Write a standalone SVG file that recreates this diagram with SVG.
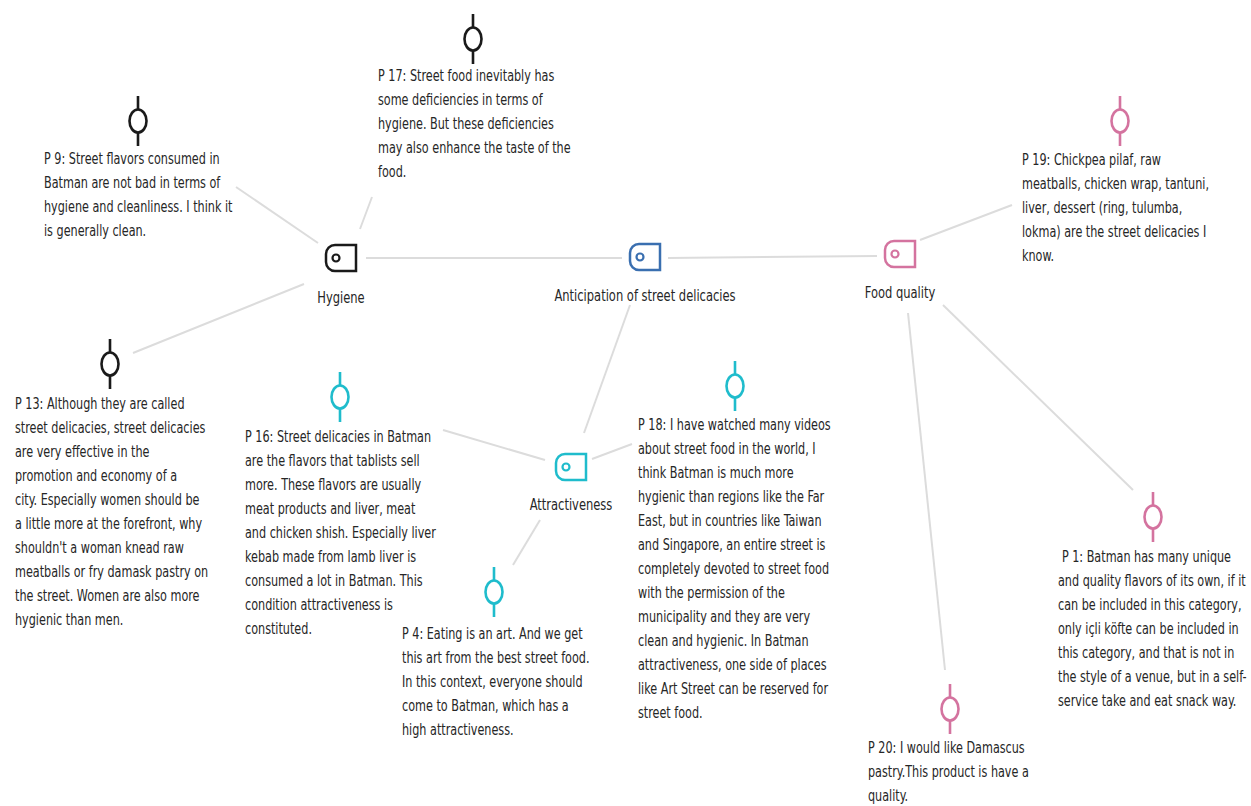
<svg xmlns="http://www.w3.org/2000/svg" xmlns:xlink="http://www.w3.org/1999/xlink" width="1251" height="806" viewBox="0 0 1251 806">
<style>
.t{font-family:"DejaVu Sans Condensed","DejaVu Sans",sans-serif;font-size:16px;fill:#262626}
.lb{font-family:"DejaVu Sans Condensed","DejaVu Sans",sans-serif;font-size:16px;fill:#262626;text-anchor:middle}
.c{stroke:#dcdcdc;stroke-width:2;fill:none}
.k{color:#1a1a1a}.b{color:#3a6fb0}.p{color:#d4739f}.y{color:#1fbccc}
</style>
<defs>
<symbol id="code" overflow="visible"><path d="M30 0H9A9 9 0 0 0 0 9V17A9 9 0 0 0 9 26H30Z" fill="#fff" stroke="currentColor" stroke-width="2.5"/><circle cx="10" cy="13" r="3.5" fill="none" stroke="currentColor" stroke-width="2.2"/></symbol>
<symbol id="quote" overflow="visible"><path d="M0 -25V-11M0 11V25" stroke="currentColor" stroke-width="2.6"/><ellipse cx="0" cy="0" rx="8.5" ry="11.5" fill="none" stroke="currentColor" stroke-width="2.6"/></symbol>
</defs>
<rect width="1251" height="806" fill="#fff"/>
<g id="connectors">
<line class="c" x1="236" y1="187" x2="318" y2="243"/>
<line class="c" x1="372" y1="197" x2="360" y2="229"/>
<line class="c" x1="133" y1="353" x2="304" y2="284"/>
<line class="c" x1="366" y1="258" x2="622" y2="258"/>
<line class="c" x1="668" y1="258" x2="877" y2="256"/>
<line class="c" x1="920" y1="240" x2="1012" y2="205"/>
<line class="c" x1="630" y1="305" x2="584" y2="433"/>
<line class="c" x1="443" y1="430" x2="545" y2="460"/>
<line class="c" x1="592" y1="459" x2="632" y2="444"/>
<line class="c" x1="540" y1="520" x2="513" y2="565"/>
<line class="c" x1="908" y1="313" x2="945" y2="670"/>
<line class="c" x1="943" y1="305" x2="1133" y2="490"/>
</g>
<g id="hygiene" class="k"><use xlink:href="#code" x="326" y="245"/><text class="lb" transform="translate(341 0) scale(0.8 1)" x="0" y="303">Hygiene</text></g>
<g id="anticipation" class="b"><use xlink:href="#code" x="630" y="244"/><text class="lb" transform="translate(645 0) scale(0.8 1)" x="0" y="301">Anticipation of street delicacies</text></g>
<g id="foodquality" class="p"><use xlink:href="#code" x="885" y="241"/><text class="lb" transform="translate(900 0) scale(0.8 1)" x="0" y="298">Food quality</text></g>
<g id="attractiveness" class="y"><use xlink:href="#code" x="556" y="454"/><text class="lb" transform="translate(571 0) scale(0.8 1)" x="0" y="510">Attractiveness</text></g>
<g id="p9" class="k"><use xlink:href="#quote" x="138" y="121"/><text class="t" transform="translate(44 0) scale(0.78 1)"><tspan x="0" y="164">P 9: Street flavors consumed in</tspan><tspan x="0" y="188">Batman are not bad in terms of</tspan><tspan x="0" y="212">hygiene and cleanliness. I think it</tspan><tspan x="0" y="236">is generally clean.</tspan></text></g>
<g id="p17" class="k"><use xlink:href="#quote" x="473" y="39"/><text class="t" transform="translate(378 0) scale(0.78 1)"><tspan x="0" y="81">P 17: Street food inevitably has</tspan><tspan x="0" y="105">some deficiencies in terms of</tspan><tspan x="0" y="129">hygiene. But these deficiencies</tspan><tspan x="0" y="153">may also enhance the taste of the</tspan><tspan x="0" y="177">food.</tspan></text></g>
<g id="p13" class="k"><use xlink:href="#quote" x="110" y="364"/><text class="t" transform="translate(15 0) scale(0.78 1)"><tspan x="0" y="409">P 13: Although they are called</tspan><tspan x="0" y="433">street delicacies, street delicacies</tspan><tspan x="0" y="457">are very effective in the</tspan><tspan x="0" y="481">promotion and economy of a</tspan><tspan x="0" y="505">city. Especially women should be</tspan><tspan x="0" y="529">a little more at the forefront, why</tspan><tspan x="0" y="553">shouldn't a woman knead raw</tspan><tspan x="0" y="577">meatballs or fry damask pastry on</tspan><tspan x="0" y="601">the street. Women are also more</tspan><tspan x="0" y="625">hygienic than men.</tspan></text></g>
<g id="p19" class="p"><use xlink:href="#quote" x="1120" y="121"/><text class="t" transform="translate(1022 0) scale(0.78 1)"><tspan x="0" y="165">P 19: Chickpea pilaf, raw</tspan><tspan x="0" y="189">meatballs, chicken wrap, tantuni,</tspan><tspan x="0" y="213">liver, dessert (ring, tulumba,</tspan><tspan x="0" y="237">lokma) are the street delicacies I</tspan><tspan x="0" y="261">know.</tspan></text></g>
<g id="p16" class="y"><use xlink:href="#quote" x="340" y="397"/><text class="t" transform="translate(245 0) scale(0.78 1)"><tspan x="0" y="442">P 16: Street delicacies in Batman</tspan><tspan x="0" y="466">are the flavors that tablists sell</tspan><tspan x="0" y="490">more. These flavors are usually</tspan><tspan x="0" y="514">meat products and liver, meat</tspan><tspan x="0" y="538">and chicken shish. Especially liver</tspan><tspan x="0" y="562">kebab made from lamb liver is</tspan><tspan x="0" y="586">consumed a lot in Batman. This</tspan><tspan x="0" y="610">condition attractiveness is</tspan><tspan x="0" y="634">constituted.</tspan></text></g>
<g id="p18" class="y"><use xlink:href="#quote" x="735" y="386"/><text class="t" transform="translate(638 0) scale(0.78 1)"><tspan x="0" y="430">P 18: I have watched many videos</tspan><tspan x="0" y="454">about street food in the world, I</tspan><tspan x="0" y="478">think Batman is much more</tspan><tspan x="0" y="502">hygienic than regions like the Far</tspan><tspan x="0" y="526">East, but in countries like Taiwan</tspan><tspan x="0" y="550">and Singapore, an entire street is</tspan><tspan x="0" y="574">completely devoted to street food</tspan><tspan x="0" y="598">with the permission of the</tspan><tspan x="0" y="622">municipality and they are very</tspan><tspan x="0" y="646">clean and hygienic. In Batman</tspan><tspan x="0" y="670">attractiveness, one side of places</tspan><tspan x="0" y="694">like Art Street can be reserved for</tspan><tspan x="0" y="718">street food.</tspan></text></g>
<g id="p4" class="y"><use xlink:href="#quote" x="494" y="592"/><text class="t" transform="translate(402 0) scale(0.78 1)"><tspan x="0" y="639">P 4: Eating is an art. And we get</tspan><tspan x="0" y="663">this art from the best street food.</tspan><tspan x="0" y="687">In this context, everyone should</tspan><tspan x="0" y="711">come to Batman, which has a</tspan><tspan x="0" y="735">high attractiveness.</tspan></text></g>
<g id="p1" class="p"><use xlink:href="#quote" x="1153" y="517"/><text class="t" transform="translate(1058 0) scale(0.78 1)"><tspan x="5" y="562">P 1: Batman has many unique</tspan><tspan x="0" y="586">and quality flavors of its own, if it</tspan><tspan x="0" y="610">can be included in this category,</tspan><tspan x="0" y="634">only içli köfte can be included in</tspan><tspan x="0" y="658">this category, and that is not in</tspan><tspan x="0" y="682">the style of a venue, but in a self-</tspan><tspan x="0" y="706">service take and eat snack way.</tspan></text></g>
<g id="p20" class="p"><use xlink:href="#quote" x="950" y="709"/><text class="t" transform="translate(868 0) scale(0.78 1)"><tspan x="0" y="753">P 20: I would like Damascus</tspan><tspan x="0" y="777">pastry.This product is have a</tspan><tspan x="0" y="801">quality.</tspan></text></g>
</svg>
